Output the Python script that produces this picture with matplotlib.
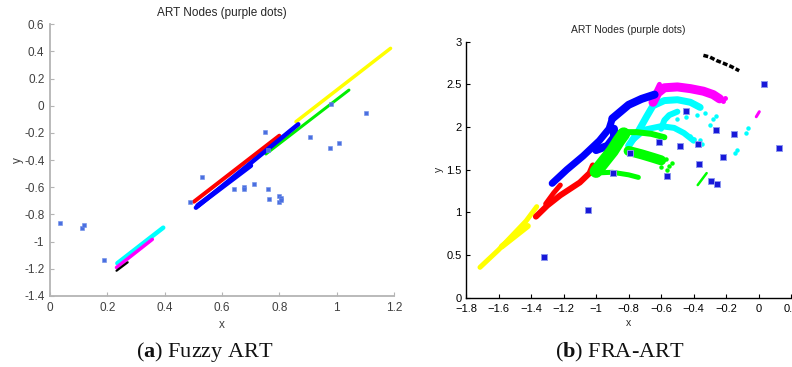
import matplotlib
matplotlib.use("Agg")
import matplotlib.pyplot as plt

plt.rcParams['font.family'] = ['Liberation Sans', 'DejaVu Sans']
plt.rcParams['mathtext.fontset'] = 'custom'
plt.rcParams['mathtext.bf'] = 'Liberation Serif:bold'
plt.rcParams['mathtext.rm'] = 'Liberation Serif'

# ---------------- Panel (a): Fuzzy ART ----------------
a_xticks = [0, 0.2, 0.4, 0.6, 0.8, 1.0, 1.2]
a_xticklabels = ['0', '0.2', '0.4', '0.6', '0.8', '1', '1.2']
a_yticks = [-1.4, -1.2, -1.0, -0.8, -0.6, -0.4, -0.2, 0, 0.2, 0.4, 0.6]
a_yticklabels = ['-1.4', '-1.2', '-1', '-0.8', '-0.6', '-0.4', '-0.2', '0', '0.2', '0.4', '0.6']

# cluster bands (start/end points of each elongated cluster)
a_yellow_x = [0.858, 1.188]
a_yellow_y = [-0.117, 0.423]
a_green_x = [0.753, 1.043]
a_green_y = [-0.355, 0.116]
a_red_x = [0.502, 0.800]
a_red_y = [-0.706, -0.220]
a_blue_x = [0.509, 0.866]
a_blue_y = [-0.750, -0.136]
a_blue2_x = [0.515, 0.700]
a_blue2_y = [-0.735, -0.440]
a_cyan_x = [0.235, 0.395]
a_cyan_y = [-1.159, -0.897]
a_magenta_x = [0.232, 0.357]
a_magenta_y = [-1.190, -0.983]
a_black_x = [0.232, 0.271]
a_black_y = [-1.214, -1.152]

# ART nodes
a_node_x = [0.979, 1.102, 0.751, 0.907, 1.008, 0.977, 0.761, 0.531, 0.488, 0.642,
            0.678, 0.676, 0.713, 0.759, 0.763, 0.800, 0.805, 0.798, 0.806,
            0.036, 0.113, 0.120, 0.189]
a_node_y = [0.013, -0.051, -0.191, -0.228, -0.276, -0.309, -0.326, -0.522, -0.706, -0.615,
            -0.600, -0.612, -0.576, -0.615, -0.686, -0.662, -0.680, -0.708, -0.690,
            -0.865, -0.902, -0.878, -1.135]

# ---------------- Panel (b): FRA-ART ----------------
b_xticks = [-1.8, -1.6, -1.4, -1.2, -1.0, -0.8, -0.6, -0.4, -0.2, 0, 0.2]
b_xticklabels = ['\u22121.8', '\u22121.6', '\u22121.4', '\u22121.2', '\u22121', '\u22120.8',
                 '\u22120.6', '\u22120.4', '\u22120.2', '0', '0.2']
b_yticks = [0, 0.5, 1, 1.5, 2, 2.5, 3]
b_yticklabels = ['0', '0.5', '1', '1.5', '2', '2.5', '3']

b_yellow_x = [-1.714, -1.60, -1.50, -1.43, -1.365]
b_yellow_y = [0.356, 0.56, 0.76, 0.90, 1.067]
b_yellow2_x = [-1.58, -1.50, -1.42]
b_yellow2_y = [0.60, 0.72, 0.84]

b_red_x = [-1.37, -1.30, -1.22, -1.10, -1.04, -1.02]
b_red_y = [0.95, 1.08, 1.20, 1.35, 1.46, 1.55]
b_red2_x = [-1.31, -1.26, -1.22]
b_red2_y = [1.10, 1.23, 1.32]

b_blue_x = [-1.27, -1.18, -1.08, -0.98, -0.92, -0.90]
b_blue_y = [1.34, 1.50, 1.66, 1.84, 1.98, 2.10]
b_blue2_x = [-1.00, -0.93, -0.89, -0.89]
b_blue2_y = [1.73, 1.78, 1.88, 1.98]
b_blue3_x = [-0.90, -0.85, -0.80, -0.72, -0.64]
b_blue3_y = [2.10, 2.18, 2.26, 2.33, 2.38]

b_cyan_x = [-0.80, -0.74, -0.69, -0.65, -0.58, -0.50, -0.42, -0.36]
b_cyan_y = [1.78, 1.95, 2.12, 2.25, 2.31, 2.32, 2.29, 2.23]
b_cyan2_x = [-0.78, -0.70, -0.60, -0.52, -0.46, -0.40]
b_cyan2_y = [1.84, 1.97, 2.01, 1.99, 1.93, 1.84]
b_cyan3_x = [-0.60, -0.58, -0.55, -0.50]
b_cyan3_y = [1.98, 2.08, 2.14, 2.18]
b_cyan_dot_x = [-0.38, -0.33, -0.28, -0.30, -0.42, -0.40, -0.36, -0.064, -0.08,
                -0.135, -0.145, -0.45, -0.50, -0.35, -0.26]
b_cyan_dot_y = [2.14, 2.16, 2.10, 2.02, 1.90, 1.86, 1.85, 1.99, 1.93,
                1.73, 1.70, 2.12, 2.10, 1.80, 2.13]

b_magenta_x = [-0.65, -0.62, -0.58, -0.50, -0.42, -0.34, -0.28, -0.24]
b_magenta_y = [2.29, 2.40, 2.46, 2.47, 2.45, 2.42, 2.38, 2.33]
b_magenta2_x = [-0.66, -0.61]
b_magenta2_y = [2.30, 2.50]
b_magenta3_x = [-0.015, 0.004]
b_magenta3_y = [2.12, 2.18]
b_magenta_dot_x = [-0.21, -0.22]
b_magenta_dot_y = [2.34, 2.31]

b_green_x = [-1.00, -0.95, -0.90, -0.86, -0.83]
b_green_y = [1.48, 1.60, 1.72, 1.84, 1.92]
b_green2_x = [-0.85, -0.75, -0.66, -0.58]
b_green2_y = [1.94, 1.94, 1.92, 1.88]
b_green3_x = [-0.80, -0.72, -0.65, -0.60]
b_green3_y = [1.72, 1.68, 1.64, 1.61]
b_green4_x = [-1.02, -0.90, -0.80, -0.74]
b_green4_y = [1.46, 1.47, 1.44, 1.41]
b_green5_x = [-0.375, -0.32]
b_green5_y = [1.32, 1.46]
b_green_dot_x = [-0.535, -0.566, -0.55, -0.60, -0.57]
b_green_dot_y = [1.575, 1.50, 1.54, 1.53, 1.62]

b_black_x = [-0.34, -0.30, -0.26, -0.22, -0.17, -0.12]
b_black_y = [2.84, 2.82, 2.78, 2.75, 2.71, 2.66]

b_node_x = [0.031, -0.447, -0.264, -0.150, 0.123, -0.615, -0.484, -0.375, -0.791,
            -0.221, -0.369, -0.898, -0.566, -0.293, -0.256, -1.050, -1.318]
b_node_y = [2.509, 2.192, 1.970, 1.919, 1.759, 1.829, 1.782, 1.806, 1.693,
            1.649, 1.571, 1.458, 1.430, 1.372, 1.337, 1.028, 0.477]

PX = 0.72  # points per pixel at dpi 100

fig = plt.figure(figsize=(7.92, 3.67), dpi=100)

# ---------- left axes ----------
axa = fig.add_axes([50 / 792, 1 - 296 / 367, 344 / 792, (296 - 24.3) / 367])
def band(ax, x, y, c, w):
    ax.plot(x, y, color=c, lw=w * PX, solid_capstyle='round', solid_joinstyle='round')

band(axa, a_yellow_x, a_yellow_y, '#ffff00', 3.5)
band(axa, a_green_x, a_green_y, '#00ee00', 3)
band(axa, a_red_x, a_red_y, '#ff0000', 4)
band(axa, a_blue_x, a_blue_y, '#0000ff', 4.5)
band(axa, a_blue2_x, a_blue2_y, '#0000ff', 5)
band(axa, a_cyan_x, a_cyan_y, '#00ffff', 4.5)
band(axa, a_magenta_x, a_magenta_y, '#ff00ff', 3.5)
band(axa, a_black_x, a_black_y, '#000000', 2.2)
axa.plot(a_node_x, a_node_y, 's', ms=3.3, color='#4a6fe0', mec='#6f8fe8', mew=0.4, ls='none')

axa.set_xlim(0, 1.2)
axa.set_ylim(-1.4, 0.6)
axa.set_xticks(a_xticks)
axa.set_xticklabels(a_xticklabels)
axa.set_yticks(a_yticks)
axa.set_yticklabels(a_yticklabels)
for s in ['top', 'right']:
    axa.spines[s].set_visible(False)
for s in ['left', 'bottom']:
    axa.spines[s].set_color('#b4b4b4')
    axa.spines[s].set_linewidth(1.3)
axa.tick_params(direction='in', length=3, width=0.8, color='#b4b4b4',
                labelcolor='#404040', labelsize=8.5, pad=4)
axa.set_title('ART Nodes (purple dots)', fontsize=8.5, color='#262626', pad=6)
axa.set_xlabel('x', fontsize=8.5, color='#404040', labelpad=4)
axa.set_ylabel('y', fontsize=8.5, color='#404040', labelpad=0)

# ---------- right axes ----------
axb = fig.add_axes([466 / 792, 1 - 297.7 / 367, (791.2 - 466) / 792, (297.7 - 41.7) / 367])
band(axb, b_yellow_x, b_yellow_y, '#ffff00', 5)
band(axb, b_yellow2_x, b_yellow2_y, '#ffff00', 6)
band(axb, b_cyan_x, b_cyan_y, '#00ffff', 7)
band(axb, b_cyan2_x, b_cyan2_y, '#00ffff', 6)
band(axb, b_cyan3_x, b_cyan3_y, '#00ffff', 6)
axb.plot(b_cyan_dot_x, b_cyan_dot_y, 'o', ms=2.2, color='#00ffff', ls='none')
band(axb, b_magenta_x, b_magenta_y, '#ff00ff', 9)
band(axb, b_magenta2_x, b_magenta2_y, '#ff00ff', 5)
band(axb, b_magenta3_x, b_magenta3_y, '#ff00ff', 3)
axb.plot(b_magenta_dot_x, b_magenta_dot_y, 'o', ms=2.5, color='#ff00ff', ls='none')
band(axb, b_blue_x, b_blue_y, '#0000ff', 7)
band(axb, b_blue2_x, b_blue2_y, '#0000ff', 8)
band(axb, b_blue3_x, b_blue3_y, '#0000ff', 8)
band(axb, b_red_x, b_red_y, '#ff0000', 6)
band(axb, b_red2_x, b_red2_y, '#ff0000', 5)
band(axb, b_green_x, b_green_y, '#00ff00', 13)
band(axb, b_green2_x, b_green2_y, '#00ff00', 6)
band(axb, b_green3_x, b_green3_y, '#00ff00', 10)
band(axb, b_green4_x, b_green4_y, '#00ff00', 5)
band(axb, b_green5_x, b_green5_y, '#00ff00', 2.5)
axb.plot(b_green_dot_x, b_green_dot_y, 'o', ms=2.2, color='#00ff00', ls='none')
axb.plot(b_black_x, b_black_y, color='#000000', lw=3.5 * PX, ls=(0, (1.4, 0.6)))
axb.plot(b_node_x, b_node_y, 's', ms=4, mfc='#1818d8', mec='#8c96f0', mew=0.7, ls='none')

axb.set_xlim(-1.8, 0.2)
axb.set_ylim(0, 3)
axb.set_xticks(b_xticks)
axb.set_xticklabels(b_xticklabels)
axb.set_yticks(b_yticks)
axb.set_yticklabels(b_yticklabels)
for s in ['top', 'right']:
    axb.spines[s].set_visible(False)
for s in ['left', 'bottom']:
    axb.spines[s].set_color('#000000')
    axb.spines[s].set_linewidth(1.0)
axb.tick_params(direction='in', length=3, width=0.8, color='#000000',
                labelcolor='#000000', labelsize=8, pad=3)
axb.tick_params(axis='x', pad=4.5)
axb.set_title('ART Nodes (purple dots)', fontsize=7.5, color='#262626', pad=6)
axb.set_xlabel('x', fontsize=7.5, color='#262626', labelpad=3)
axb.set_ylabel('y', fontsize=7.5, color='#262626', labelpad=2)

# ---------- captions ----------
cap_font = ['Liberation Serif', 'DejaVu Serif']
fig.text(205 / 792, 1 - 352 / 367, r'($\mathbf{a}$) Fuzzy ART', ha='center', va='center',
         fontsize=16, family=cap_font, color='#111111')
fig.text(620 / 792, 1 - 352 / 367, r'($\mathbf{b}$) FRA-ART', ha='center', va='center',
         fontsize=16, family=cap_font, color='#111111')

fig.savefig('out.png', dpi=100)
